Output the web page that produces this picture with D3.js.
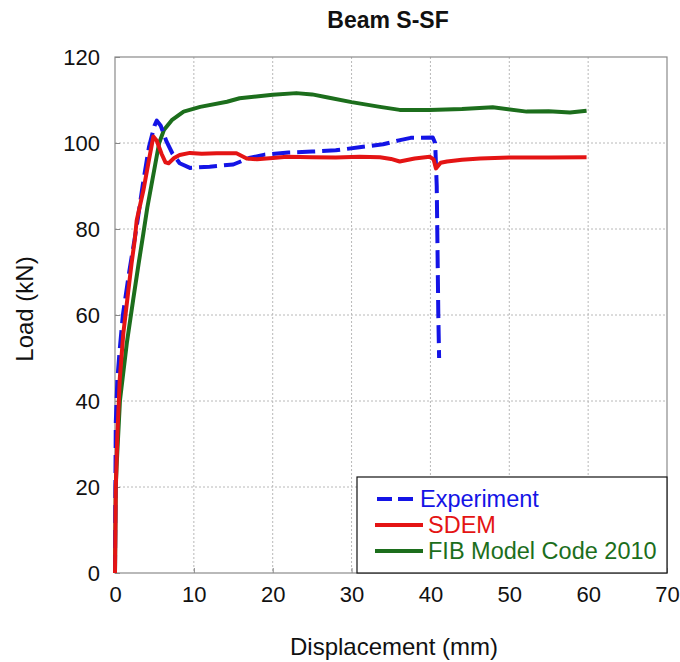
<!DOCTYPE html>
<html>
<head>
<meta charset="utf-8">
<script src="https://cdn.jsdelivr.net/npm/d3@7"></script>
<style>
  body { margin: 0; background: #fff; }
  text { font-family: "Liberation Sans", Arial, sans-serif; }
</style>
</head>
<body>
<svg id="mainSvg" width="680" height="662"></svg>
<script>
// data: [displacement (mm), load (kN)]
var experimentData = [[0,0],[0.05,20],[0.1,35],[0.3,45],[0.6,52],[1.0,60],[1.8,70],[2.7,80],[3.5,90],[4.3,99],
    [5.0,104],[5.3,105.2],[5.8,104],[6.5,100.5],[7.3,97.5],[8.2,95.3],[9.5,94.2],[12,94.5],[15,95],[17,96.5],
    [19,97.3],[22,97.8],[25,98],[28,98.3],[31,99],[34,99.7],[36,100.6],[37.5,101.2],[40.3,101.3],[40.6,100],
    [40.8,90],[40.9,75],[41,60],[41.1,50]];
var sdemData = [[0,0],[0.1,20],[0.3,32],[0.6,45],[1.06,55.8],[1.7,65.8],[2.1,72],[2.5,77.4],[2.75,82],[3.6,89],
    [4.3,96],[4.86,101.5],[5.3,100.5],[5.9,97.5],[6.4,95.5],[6.8,95.3],[7.5,96.5],[8.2,97.2],[9.5,97.7],[11,97.5],
    [12.9,97.6],[15.4,97.6],[16.7,96.4],[18,96.2],[20,96.5],[21.8,96.8],[25,96.7],[28,96.6],[31,96.8],[33.6,96.7],
    [35,96.3],[36.1,95.7],[38,96.4],[39.9,96.8],[40.4,96.2],[40.7,94.1],[41.3,95.4],[42.1,95.7],[44,96.1],
    [46.3,96.4],[50,96.6],[55,96.6],[59.8,96.7]];
var fibData = [[0,0],[0.05,10],[0.1,20],[0.2,24.7],[0.63,40.2],[1.5,53.5],[2.3,63.5],[3.0,72],[3.6,79],[4.1,85],
    [4.6,90],[5.1,95],[5.6,100],[6.2,103],[7.2,105.3],[8.7,107.3],[10.8,108.4],[14.2,109.6],[15.8,110.4],[20,111.2],
    [23,111.6],[25,111.3],[27,110.6],[30,109.5],[33.6,108.4],[36.1,107.7],[39.9,107.7],[44,107.9],[47.9,108.3],
    [52.2,107.3],[55,107.4],[57.7,107.1],[59.8,107.5]];

var xTicks = [0,10,20,30,40,50,60,70];
var yTicks = [0,20,40,60,80,100,120];

var seriesNames = ["Experiment","SDEM","FIB Model Code 2010"];
var seriesColors = ["#1414e6","#e41414","#1c6e1c"];
var seriesData = [experimentData, sdemData, fibData];

var svg = d3.select("#mainSvg");
var plotLeft = 115, plotRight = 667, plotTop = 57, plotBottom = 573;

var x = d3.scaleLinear().domain([0,70]).range([plotLeft,plotRight]);
var y = d3.scaleLinear().domain([0,120]).range([plotBottom,plotTop]);

// grid
var grid = svg.append("g").attr("class","grid");
grid.selectAll(".vgrid")
    .data(xTicks.slice(1,-1))
    .enter()
    .append("line")
    .attr("x1",function(d){ return x(d); })
    .attr("x2",function(d){ return x(d); })
    .attr("y1",plotTop)
    .attr("y2",plotBottom)
    .attr("stroke","#b8b8b8")
    .attr("stroke-width",1)
    .attr("stroke-dasharray","2,2");
grid.selectAll(".hgrid")
    .data(yTicks.slice(1,-1))
    .enter()
    .append("line")
    .attr("x1",plotLeft)
    .attr("x2",plotRight)
    .attr("y1",function(d){ return y(d); })
    .attr("y2",function(d){ return y(d); })
    .attr("stroke","#b8b8b8")
    .attr("stroke-width",1)
    .attr("stroke-dasharray","2,2");

// axes
var xAxis = svg.append("g")
    .attr("transform","translate(0,"+plotBottom+")")
    .call(d3.axisBottom(x).tickValues(xTicks).tickSize(-5).tickPadding(13).tickFormat(d3.format("d")));
var yAxis = svg.append("g")
    .attr("transform","translate("+plotLeft+",0)")
    .call(d3.axisLeft(y).tickValues(yTicks).tickSize(-5).tickPadding(15).tickFormat(d3.format("d")));
[xAxis, yAxis].forEach(function(a){
    a.select(".domain").remove();
    a.selectAll(".tick line").attr("stroke","#888");
    a.selectAll(".tick text").attr("font-size","22px").attr("fill","#111")
        .style("font-family","'Liberation Sans', Arial, sans-serif");
});

// plot box
svg.append("rect")
    .attr("x",plotLeft)
    .attr("y",plotTop)
    .attr("width",plotRight-plotLeft)
    .attr("height",plotBottom-plotTop)
    .attr("fill","none")
    .attr("stroke","#8a8a8a")
    .attr("stroke-width",1.2);

// curves
var line = d3.line()
    .x(function(d){ return x(d[0]); })
    .y(function(d){ return y(d[1]); });

var drawOrder = [2,0,1];
drawOrder.forEach(function(i){
    svg.append("path")
        .datum(seriesData[i])
        .attr("d",line)
        .attr("fill","none")
        .attr("stroke",seriesColors[i])
        .attr("stroke-width",4)
        .attr("stroke-linejoin","round")
        .attr("stroke-dasharray", i == 0 ? "18,7" : null);
});

// legend
var legendGroup = svg.append("g").attr("class","legendGroup");
legendGroup.append("rect")
    .attr("x",357)
    .attr("y",477)
    .attr("width",plotRight-357)
    .attr("height",plotBottom-477)
    .attr("fill","white")
    .attr("stroke","#111")
    .attr("stroke-width",1.2);

var legendItems = legendGroup.selectAll(".legendItem")
    .data(seriesNames)
    .enter()
    .append("g")
    .attr("transform",function(d,i){ return "translate(0,"+(499 + i*26)+")"; });

legendItems.append("line")
    .attr("x1",function(d,i){ return i == 0 ? 377 : 375; })
    .attr("x2",function(d,i){ return i == 0 ? 413 : 423; })
    .attr("y1",0)
    .attr("y2",0)
    .attr("stroke",function(d,i){ return seriesColors[i]; })
    .attr("stroke-width",4)
    .attr("stroke-dasharray",function(d,i){ return i == 0 ? "15,6" : null; });

legendItems.append("text")
    .attr("x",function(d,i){ return i == 0 ? 420 : 428; })
    .attr("y",0)
    .attr("dy","0.35em")
    .attr("fill",function(d,i){ return seriesColors[i]; })
    .attr("font-size","23.5px")
    .text(function(d){ return d; });

// titles
svg.append("text")
    .attr("x",388)
    .attr("y",28)
    .attr("text-anchor","middle")
    .attr("font-size","23px")
    .attr("font-weight","bold")
    .attr("fill","#111")
    .text("Beam S-SF");

svg.append("text")
    .attr("x",394)
    .attr("y",655)
    .attr("text-anchor","middle")
    .attr("font-size","24px")
    .attr("fill","#111")
    .text("Displacement (mm)");

svg.append("text")
    .attr("transform","translate(33,309) rotate(-90)")
    .attr("text-anchor","middle")
    .attr("font-size","24px")
    .attr("fill","#111")
    .text("Load (kN)");
</script>
</body>
</html>
